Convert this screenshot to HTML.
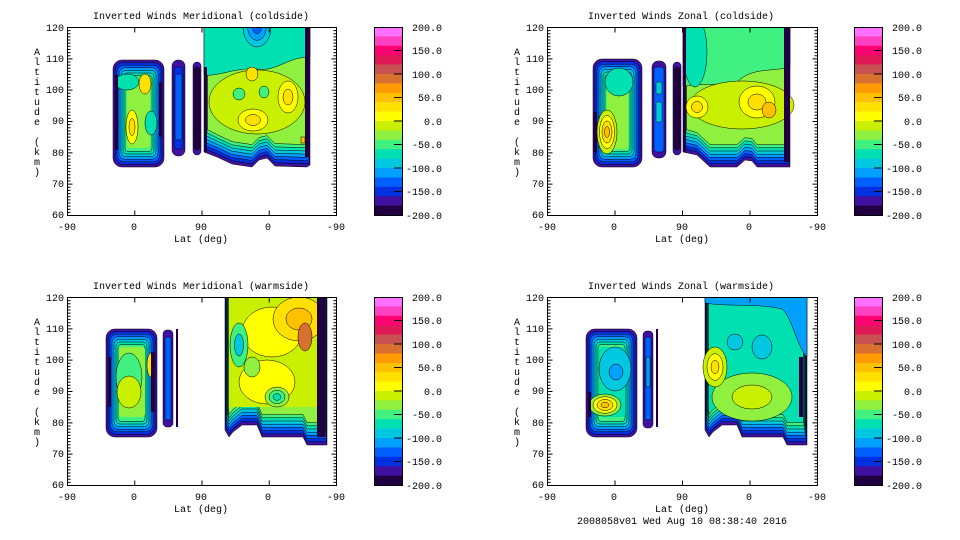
<!DOCTYPE html>
<html><head><meta charset="utf-8"><style>
html,body{margin:0;padding:0;background:#fff;}
svg{display:block;}
text{font-family:"Liberation Mono","DejaVu Sans Mono",monospace;font-size:10px;fill:#000;}
</style></head><body>
<svg id="s" width="960" height="540" xmlns="http://www.w3.org/2000/svg">
<defs><clipPath id="cp"><rect x="0" y="0" width="270" height="188"/></clipPath></defs>
<rect width="960" height="540" fill="#fff"/>
<g transform="translate(67,27)"><g id="p1" clip-path="url(#cp)"></g></g>
<g transform="translate(547,27)"><g id="p2" clip-path="url(#cp)"></g></g>
<g transform="translate(67,297)"><g id="p3" clip-path="url(#cp)"></g></g>
<g transform="translate(547,297)"><g id="p4" clip-path="url(#cp)"></g></g>
<g id="axes"></g>
<text x="201" y="19" text-anchor="middle">Inverted Winds Meridional (coldside)</text>
<text x="681" y="19" text-anchor="middle">Inverted Winds Zonal (coldside)</text>
<text x="201" y="289" text-anchor="middle">Inverted Winds Meridional (warmside)</text>
<text x="681" y="289" text-anchor="middle">Inverted Winds Zonal (warmside)</text>
<g text-anchor="middle">
<text x="67" y="230">-90</text><text x="134" y="230">0</text><text x="201" y="230">90</text><text x="268" y="230">0</text><text x="336" y="230">-90</text>
<text x="201" y="242">Lat (deg)</text>
<text x="547" y="230">-90</text><text x="614" y="230">0</text><text x="682" y="230">90</text><text x="749" y="230">0</text><text x="817" y="230">-90</text>
<text x="682" y="242">Lat (deg)</text>
<text x="67" y="500">-90</text><text x="134" y="500">0</text><text x="201" y="500">90</text><text x="268" y="500">0</text><text x="336" y="500">-90</text>
<text x="201" y="512">Lat (deg)</text>
<text x="547" y="500">-90</text><text x="614" y="500">0</text><text x="682" y="500">90</text><text x="749" y="500">0</text><text x="817" y="500">-90</text>
<text x="682" y="512">Lat (deg)</text>
<text x="682" y="524">2008058v01 Wed Aug 10 08:38:40 2016</text>
</g>
<g text-anchor="end">
<text x="64" y="31">120</text><text x="64" y="62">110</text><text x="64" y="93">100</text><text x="64" y="124">90</text><text x="64" y="156">80</text><text x="64" y="187">70</text><text x="64" y="218">60</text>
<text x="544" y="31">120</text><text x="544" y="62">110</text><text x="544" y="93">100</text><text x="544" y="124">90</text><text x="544" y="156">80</text><text x="544" y="187">70</text><text x="544" y="218">60</text>
<text x="64" y="301">120</text><text x="64" y="332">110</text><text x="64" y="363">100</text><text x="64" y="394">90</text><text x="64" y="426">80</text><text x="64" y="457">70</text><text x="64" y="488">60</text>
<text x="544" y="301">120</text><text x="544" y="332">110</text><text x="544" y="363">100</text><text x="544" y="394">90</text><text x="544" y="426">80</text><text x="544" y="457">70</text><text x="544" y="488">60</text>
</g>
<g text-anchor="middle">
<text x="37" y="55">A</text><text x="37" y="65">l</text><text x="37" y="75">t</text><text x="37" y="85">i</text><text x="37" y="95">t</text><text x="37" y="105">u</text><text x="37" y="115">d</text><text x="37" y="125">e</text><text x="37" y="145">(</text><text x="37" y="155">k</text><text x="37" y="165">m</text><text x="37" y="175">)</text>
<text x="517" y="55">A</text><text x="517" y="65">l</text><text x="517" y="75">t</text><text x="517" y="85">i</text><text x="517" y="95">t</text><text x="517" y="105">u</text><text x="517" y="115">d</text><text x="517" y="125">e</text><text x="517" y="145">(</text><text x="517" y="155">k</text><text x="517" y="165">m</text><text x="517" y="175">)</text>
<text x="37" y="325">A</text><text x="37" y="335">l</text><text x="37" y="345">t</text><text x="37" y="355">i</text><text x="37" y="365">t</text><text x="37" y="375">u</text><text x="37" y="385">d</text><text x="37" y="395">e</text><text x="37" y="415">(</text><text x="37" y="425">k</text><text x="37" y="435">m</text><text x="37" y="445">)</text>
<text x="517" y="325">A</text><text x="517" y="335">l</text><text x="517" y="345">t</text><text x="517" y="355">i</text><text x="517" y="365">t</text><text x="517" y="375">u</text><text x="517" y="385">d</text><text x="517" y="395">e</text><text x="517" y="415">(</text><text x="517" y="425">k</text><text x="517" y="435">m</text><text x="517" y="445">)</text>
</g>
<g text-anchor="end">
<text x="442" y="31">200.0</text><text x="442" y="54">150.0</text><text x="442" y="78">100.0</text><text x="442" y="101">50.0</text><text x="442" y="125">0.0</text><text x="442" y="148">-50.0</text><text x="442" y="172">-100.0</text><text x="442" y="195">-150.0</text><text x="442" y="219">-200.0</text>
<text x="922" y="31">200.0</text><text x="922" y="54">150.0</text><text x="922" y="78">100.0</text><text x="922" y="101">50.0</text><text x="922" y="125">0.0</text><text x="922" y="148">-50.0</text><text x="922" y="172">-100.0</text><text x="922" y="195">-150.0</text><text x="922" y="219">-200.0</text>
<text x="442" y="301">200.0</text><text x="442" y="324">150.0</text><text x="442" y="348">100.0</text><text x="442" y="371">50.0</text><text x="442" y="395">0.0</text><text x="442" y="418">-50.0</text><text x="442" y="442">-100.0</text><text x="442" y="465">-150.0</text><text x="442" y="489">-200.0</text>
<text x="922" y="301">200.0</text><text x="922" y="324">150.0</text><text x="922" y="348">100.0</text><text x="922" y="371">50.0</text><text x="922" y="395">0.0</text><text x="922" y="418">-50.0</text><text x="922" y="442">-100.0</text><text x="922" y="465">-150.0</text><text x="922" y="489">-200.0</text>
</g>
</svg>
<script>
var C=[null,'#ff70ff','#ff40c0','#ff0070','#e01858','#c85050','#d87030','#ff9a00','#ffc000','#ffe000','#ffff00','#c8f000','#90f040','#40f080','#00e0b0','#00c8e0','#00a0ff','#0060ff','#0030e0','#4010a0','#200040'];
var NS='http://www.w3.org/2000/svg';
function el(p,t,a){var e=document.createElementNS(NS,t);for(var k in a)e.setAttribute(k,a[k]);p.appendChild(e);return e;}
function rr(g,x,y,w,h,r,ci,sw){if(w<=0||h<=0)return;el(g,'rect',{x:x,y:y,width:w,height:h,rx:Math.min(r,w/2),ry:Math.min(r,h/2),fill:C[ci],stroke:'#000','stroke-width':sw==null?0.5:sw});}
function nest(g,x,y,w,h,r,cols,dx,dy){for(var i=0;i<cols.length;i++)rr(g,x+i*dx,y+i*dy,w-2*i*dx,h-2*i*dy,Math.max(r-i,2),cols[i]);}
function blob(g,cx,cy,rx,ry,cols){var n=cols.length;for(var i=0;i<n;i++){var f=1-i/n;el(g,'ellipse',{cx:cx,cy:cy,rx:rx*f,ry:ry*f,fill:C[cols[i]],stroke:'#000','stroke-width':0.5});}}
function region(g,x0,x1,prof,cols,dx,dy){for(var i=0;i<cols.length;i++){var a=x0+i*dx,b=x1-i*dx;var d='M'+a+',0 L'+b+',0 ';var pts=prof.slice().reverse();pts.forEach(function(p){var x=Math.max(a,Math.min(b,p[0]));d+='L'+x+','+(p[1]-i*dy)+' ';});d+='Z';el(g,'path',{d:d,fill:C[cols[i]],stroke:'#000','stroke-width':0.5});}}
var bl=[19,18,17,16,15,14,13];
(function(){var g=document.getElementById('p1');
nest(g,46,33,51,107,9,bl,2,2.6);rr(g,60,51,23,70,3,12,0);
blob(g,60,55,12,8,[14]);blob(g,78,57,6,10,[9]);blob(g,65,100,6,17,[10,9]);blob(g,84,96,6,12,[14]);
rr(g,48,48,3,75,1,20,0);rr(g,92,55,3,55,1,20,0);
rr(g,105,33,13,96,6,19);rr(g,107,40,9,82,3,18);rr(g,108,47,7,66,2,17);
rr(g,126,35,8,93,4,19);rr(g,127,40,6,83,3,20);
var prof=[[137,125],[150,130],[165,137],[185,140],[192,133],[200,131],[208,139],[240,140],[243,138]];
region(g,137,243,prof,[19,18,17,16,15,14,13,12],0.5,3.2);
el(g,'path',{d:'M137,0 L243,0 L243,30 C220,30 210,45 190,42 C170,40 150,50 137,48 Z',fill:C[14],stroke:'#000','stroke-width':0.5});
blob(g,190,0,14,20,[15,16,17]);
blob(g,190,75,48,32,[11]);
blob(g,185,47,6,7,[9]);blob(g,221,70,10,16,[10,9]);blob(g,186,93,15,11,[10,9]);blob(g,172,67,6,6,[13]);blob(g,197,65,5,6,[13]);
rr(g,238,0,5,130,0,20,0);rr(g,234,110,4,6,0,8);rr(g,137,40,3,85,0,20,0);
})();
(function(){var g=document.getElementById('p2');
nest(g,46,32,49,108,9,bl,2,2.6);rr(g,60,50,21,72,3,12,0);
blob(g,72,55,14,14,[14]);blob(g,60,105,10,22,[11,10,9,8]);
rr(g,46,85,4,40,0,20,0);
rr(g,105,34,14,97,6,19);rr(g,107,40,10,85,3,17);rr(g,109,55,6,12,1,15);rr(g,109,75,6,20,1,15);
rr(g,126,35,8,93,4,19);rr(g,127,40,6,83,3,20);
var prof=[[136,125],[150,128],[163,140],[190,140],[198,133],[205,134],[210,140],[243,140]];
region(g,136,243,prof,[19,18,17,16,15,14,13,12],0.5,3.2);
el(g,'path',{d:'M136,0 L243,0 L243,40 C225,45 205,40 190,55 C170,60 150,55 136,60 Z',fill:C[13],stroke:'#000','stroke-width':0.5});
blob(g,148,25,12,35,[14]);
blob(g,195,78,52,24,[11]);blob(g,150,80,11,11,[10,9]);blob(g,210,75,18,16,[10,9]);blob(g,222,83,7,8,[8]);
rr(g,237,0,6,135,0,20,0);rr(g,136,0,3,125,0,20,0);
})();
(function(){var g=document.getElementById('p3');
nest(g,39,32,51,108,9,bl,2,2.6);rr(g,52,50,26,70,3,12,0);
blob(g,62,80,13,24,[13]);blob(g,62,95,12,16,[11]);blob(g,84,68,4,12,[9]);
rr(g,84,55,4,60,0,20,0);rr(g,41,60,3,50,0,20,0);
rr(g,96,33,10,97,4,19);rr(g,98,40,6,83,2,17);
rr(g,109,32,2,98,0,20,0);
var prof=[[158,133],[162,140],[166,135],[175,128],[190,128],[195,140],[236,140],[240,148],[260,148]];
region(g,158,260,prof,[19,18,17,16,15,14,13,12],0.5,3.2);
rr(g,162,0,88,110,0,11,0);
blob(g,200,85,28,22,[10]);blob(g,205,35,30,25,[10]);
blob(g,232,22,26,22,[9,8]);blob(g,238,40,7,14,[6]);
blob(g,172,48,9,22,[13,15]);blob(g,210,100,12,10,[12,13,14]);blob(g,185,70,8,10,[12]);
rr(g,250,0,8,140,0,20,0);
})();
(function(){var g=document.getElementById('p4');
nest(g,39,32,51,108,9,bl,2,2.6);rr(g,52,50,26,70,3,14,0);
blob(g,68,72,16,22,[15]);blob(g,69,75,7,8,[16]);blob(g,58,108,16,11,[12,10,9,8]);
rr(g,41,95,3,25,0,20,0);
rr(g,96,34,10,97,4,19);rr(g,98,40,6,83,2,17);rr(g,99,60,4,30,1,16);
rr(g,109,32,2,98,0,20,0);
var prof=[[158,133],[162,140],[166,135],[175,128],[190,128],[195,140],[236,140],[240,148],[260,148]];
region(g,158,260,prof,[19,18,17,16,15,14,13,14],0.5,3.2);
el(g,'path',{d:'M158,0 L260,0 L260,60 C250,50 245,20 235,12 C210,6 180,10 158,6 Z',fill:C[16],stroke:'#000','stroke-width':0.5});
blob(g,205,100,40,24,[12,11]);blob(g,168,70,12,20,[11,10,9]);blob(g,215,50,10,12,[15]);blob(g,188,45,8,8,[15]);
rr(g,252,60,4,60,0,20,0);
})();
var ax=document.getElementById('axes');
function axes(x0,y0,x1,y1){
 el(ax,'rect',{x:x0,y:y0,width:x1-x0,height:y1-y0,fill:'none',stroke:'#000','stroke-width':1});
 var w=x1-x0,h=y1-y0,d='';
 for(var i=0;i<=60;i++){var y=y1-i*h/60;var L=(i%10==0)?5:3;d+='M'+x0+','+y+'h'+L+'M'+x1+','+y+'h-'+L;}
 for(var j=0;j<=4;j++){var x=x0+j*w/4;d+='M'+x+','+y1+'v-5M'+x+','+y0+'v5';}
 el(ax,'path',{d:d,stroke:'#000','stroke-width':1,fill:'none'});
}
axes(67.5,27.5,336.5,215.5);axes(547.5,27.5,817.5,215.5);axes(67.5,297.5,336.5,485.5);axes(547.5,297.5,817.5,485.5);
function cbar(x,y){var h=188/20;for(var i=1;i<=20;i++)el(ax,'rect',{x:x,y:y+(i-1)*h,width:28,height:h+0.3,fill:C[i]});
 el(ax,'rect',{x:x+0.5,y:y+0.5,width:28,height:188,fill:'none',stroke:'#000'});
 var d='';for(var k=1;k<8;k++){var yy=y+k*23.5;d+='M'+(x+20)+','+yy+'h8';}el(ax,'path',{d:d,stroke:'#000'});}
cbar(374,27);cbar(854,27);cbar(374,297);cbar(854,297);
</script>
</body></html>
